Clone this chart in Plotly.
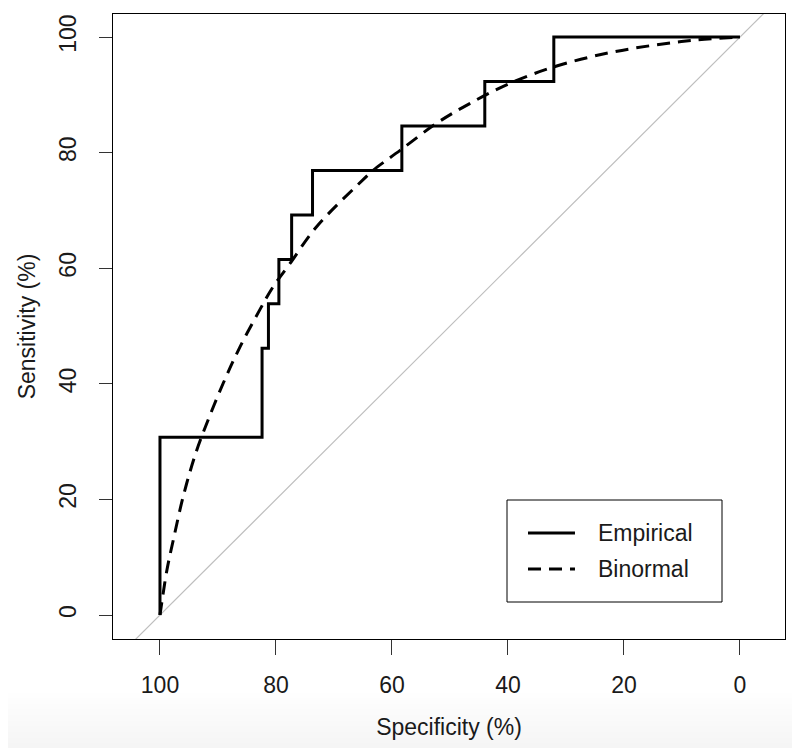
import plotly.graph_objects as go

# ---------------- data ----------------
emp_spec = [100, 100, 82.4, 82.4, 81.3, 81.3, 79.5, 79.5, 77.3, 77.3, 73.7, 73.7,
            58.3, 58.3, 44.0, 44.0, 32.1, 32.1, 0]
emp_sens = [0, 30.77, 30.77, 46.15, 46.15, 53.85, 53.85, 61.54, 61.54, 69.23, 69.23, 76.92,
            76.92, 84.62, 84.62, 92.31, 92.31, 100, 100]

bin_spec = [100, 99.8, 98.8, 97.7, 96.0, 94.0, 92.5, 89.1, 86.2, 82.8, 80.5, 77.6, 73.0,
            64.7, 63.2, 58.6, 52.3, 46.6, 39.7, 31.6, 23.0, 14.9, 7.5, 0]
bin_sens = [0, 1.4, 7.8, 13.0, 20.5, 27.5, 31.7, 40.1, 46.4, 52.8, 56.8, 60.8, 67.2,
            75.6, 77.0, 80.4, 85.1, 88.5, 92.0, 95.0, 97.2, 98.6, 99.5, 100]

diag_spec = [120, -20]
diag_sens = [-20, 120]

tick_vals = [0, 20, 40, 60, 80, 100]
tick_text = ["0", "20", "40", "60", "80", "100"]

FONT = "Liberation Sans, Arial, Helvetica, sans-serif"
TXT = "#1a1a1a"

fig = go.Figure()
fig.add_trace(go.Scatter(x=diag_spec, y=diag_sens, mode="lines",
                         line=dict(color="#bebebe", width=1.2), showlegend=False,
                         hoverinfo="skip"))
fig.add_trace(go.Scatter(x=emp_spec, y=emp_sens, mode="lines", name="Empirical",
                         line=dict(color="black", width=3), showlegend=False))
fig.add_trace(go.Scatter(x=bin_spec, y=bin_sens, mode="lines", name="Binormal",
                         line=dict(color="black", width=3, dash="13px,8px", shape="spline"),
                         showlegend=False))

# manual legend (R-style)
fig.add_shape(type="rect", xref="x", yref="y", x0=40.17, x1=3.1, y0=2.25, y1=19.9,
              line=dict(color="black", width=1), fillcolor="white")
fig.add_shape(type="line", xref="x", yref="y", x0=36.55, x1=28.45, y0=14.2, y1=14.2,
              line=dict(color="black", width=3))
fig.add_shape(type="line", xref="x", yref="y", x0=36.55, x1=28.45, y0=7.96, y1=7.96,
              line=dict(color="black", width=3, dash="13px,8px"))
fig.add_annotation(x=24.8, y=14.2, xref="x", yref="y", text="Empirical", showarrow=False,
                   xanchor="left", yanchor="middle", font=dict(family=FONT, size=23, color=TXT))
fig.add_annotation(x=24.8, y=7.96, xref="x", yref="y", text="Binormal", showarrow=False,
                   xanchor="left", yanchor="middle", font=dict(family=FONT, size=23, color=TXT))

# subtle grey gradient at the bottom (screenshot shading)
for k in range(10):
    top = -0.085 - 0.009 * k
    fig.add_shape(type="rect", xref="paper", yref="paper", x0=-0.3, x1=1.3, y0=-0.3, y1=top,
                  line=dict(width=0), fillcolor="rgba(0,0,0,0.0045)", layer="below")

# page body has an 8px default margin -> margins compensated
fig.update_layout(
    width=800, height=748,
    margin=dict(l=105, r=23, t=6, b=117, autoexpand=False),
    paper_bgcolor="white", plot_bgcolor="white",
    font=dict(family=FONT, size=23, color=TXT),
    showlegend=False,
)
fig.update_xaxes(range=[108.1, -7.76], tickvals=tick_vals, ticktext=tick_text,
                 automargin=False,
                 showgrid=False, zeroline=False, showline=True, mirror=True,
                 linecolor="black", linewidth=1, ticks="outside", ticklen=15,
                 tickcolor="#333", tickwidth=1, ticklabelstandoff=10,
                 title=dict(text="Specificity (%)", standoff=22,
                            font=dict(family=FONT, size=23, color=TXT)))
fig.update_yaxes(range=[-4.15, 104], tickvals=tick_vals, ticktext=tick_text,
                 automargin=False,
                 showgrid=False, zeroline=False, showline=True, mirror=True,
                 linecolor="black", linewidth=1, ticks="outside", ticklen=13,
                 tickcolor="#333", tickwidth=1, tickangle=-90, ticklabelstandoff=14,
                 title=dict(text="Sensitivity (%)", standoff=12,
                            font=dict(family=FONT, size=23, color=TXT)))

fig.write_html("out.html")
